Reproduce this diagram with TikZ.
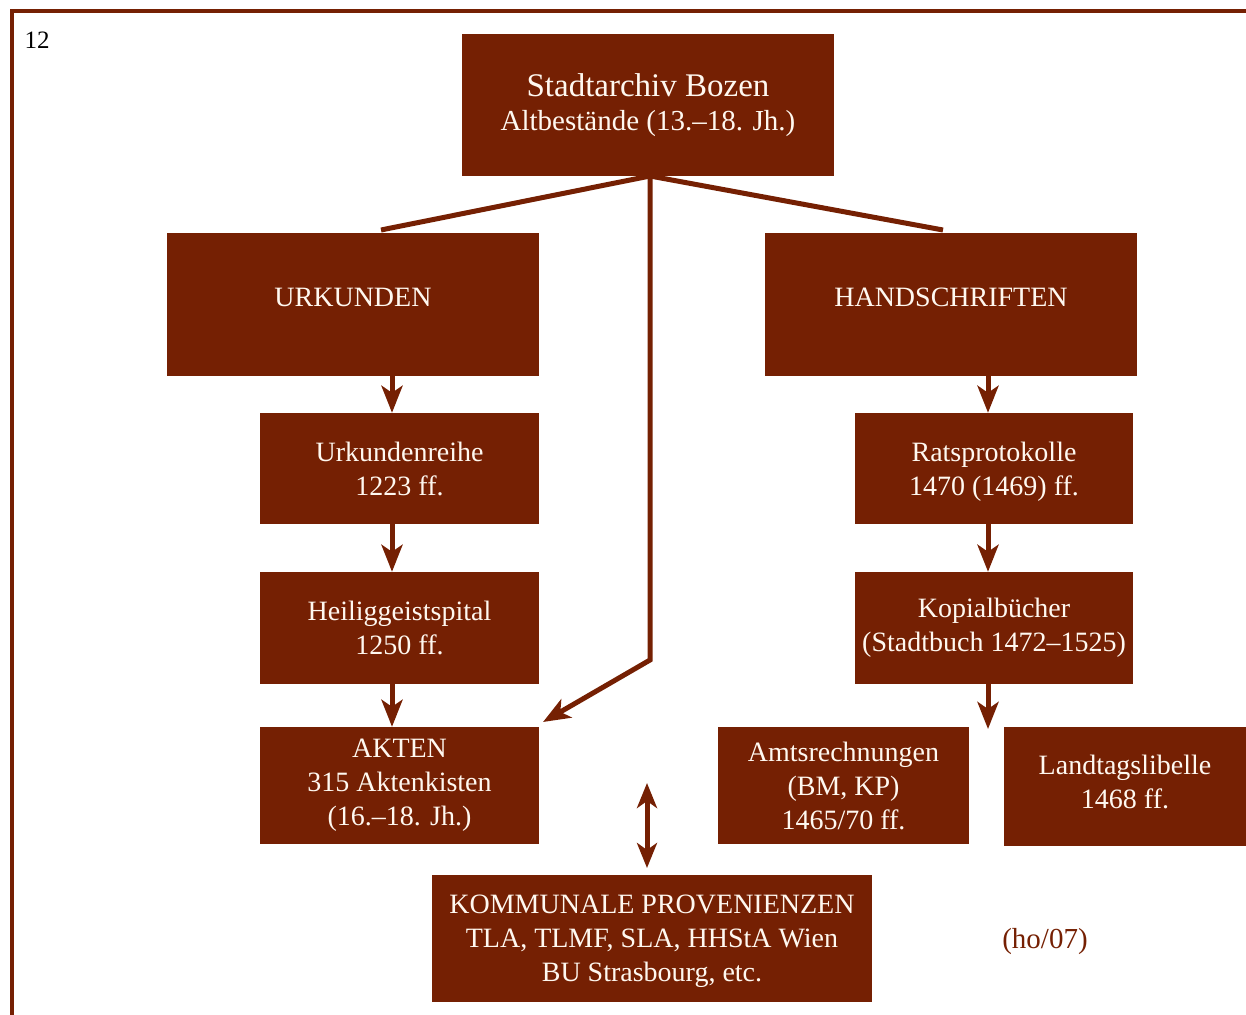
\documentclass[tikz,border=0pt]{standalone}
\usepackage{fontspec}
\setmainfont{Liberation Serif}
\usetikzlibrary{arrows.meta,calc}
\definecolor{archred}{RGB}{117,32,3}
\definecolor{cream}{RGB}{255,248,240}
\begin{document}
\begin{tikzpicture}[x=1pt,y=-1pt,
  box/.style={fill=archred,draw=none,text=cream,inner sep=0pt,align=center,
    font=\fontsize{28}{34}\selectfont},
  boxtext/.style={text=cream,inner sep=0pt,align=center,font=\fontsize{28}{34}\selectfont},
  conn/.style={draw=archred,line width=5pt},
  arr/.style={conn,-{Stealth[length=27pt,width=21pt,inset=7pt]}},
  darr/.style={conn,{Stealth[length=25pt,width=20pt,inset=7pt]}-{Stealth[length=25pt,width=20pt,inset=7pt]}}]
\useasboundingbox (0,0) rectangle (1246,1014);
% frame
\draw[archred,line width=4pt] (11.5,1020) -- (11.5,11.5) -- (1252,11.5);
\node[font=\fontsize{25}{28}\selectfont,text=black] (pg) at (37,40) {12};
% boxes
\node[box,minimum width=372pt,minimum height=142pt] (top) at (648,105)
  {{\fontsize{33}{38}\selectfont Stadtarchiv Bozen}\\{\fontsize{29}{36}\selectfont Altbestände (13.–18. Jh.)}};
\node[box,minimum width=372pt,minimum height=143pt] (urk) at (353,304.5) {\raisebox{15pt}{URKUNDEN}};
\node[box,minimum width=372pt,minimum height=143pt] (hand) at (951,304.5) {\raisebox{15pt}{HANDSCHRIFTEN}};
\node[box,minimum width=279pt,minimum height=111pt] (ureihe) at (399.5,468.5) {Urkundenreihe\\1223 ff.};
\node[box,minimum width=279pt,minimum height=112pt] (heil) at (399.5,628) {Heiliggeistspital\\1250 ff.};
\node[box,minimum width=279pt,minimum height=117pt] (akten) at (399.5,785.5) {AKTEN\\315 Aktenkisten\\(16.–18. Jh.)};
\node[box,minimum width=278pt,minimum height=111pt] (rats) at (994,468.5) {};
\node[boxtext] (ratst) at (994,471.5) {Ratsprotokolle\\1470 (1469) ff.};
\node[box,minimum width=278pt,minimum height=112pt] (kopial) at (994,628) {Kopialbücher\\(Stadtbuch 1472–1525)};
\node[box,minimum width=251pt,minimum height=117pt] (amts) at (843.5,785.5) {Amtsrechnungen\\(BM, KP)\\1465/70 ff.};
\node[box,minimum width=242pt,minimum height=119pt] (land) at (1125,786.5) {};
\node[boxtext] (landt) at (1125,781.5) {Landtagslibelle\\1468 ff.};
\node[box,minimum width=440pt,minimum height=127pt] (komm) at (652,938.5) {};
\node[boxtext] (kommt) at (652,941.5) {KOMMUNALE PROVENIENZEN\\TLA, TLMF, SLA, HHStA Wien\\BU Strasbourg, etc.};
\node[text=archred,font=\fontsize{29}{34}\selectfont] (ho) at (1045,942) {(ho/07)};
% connector coordinates
\coordinate (src) at (650,176);
\coordinate (uj) at (381,230);
\coordinate (hj) at (943,230);
\coordinate (bend) at (650,660);
\coordinate (aktip) at (543,722);
\coordinate (lx) at (392,0);
\coordinate (rx) at (988,0);
\coordinate (gap) at (988,729);
\coordinate (dtop) at (647,783);
\coordinate (dbot) at (647,868);
% connectors
\draw[conn] (uj) -- (src) -- (hj);
\draw[arr,line join=miter] (src) -- (bend) -- (aktip);
\draw[arr] (urk.south -| lx) -- (ureihe.north -| lx);
\draw[arr] (ureihe.south -| lx) -- (heil.north -| lx);
\draw[arr] (heil.south -| lx) -- (akten.north -| lx);
\draw[arr] (hand.south -| rx) -- (rats.north -| rx);
\draw[arr] (rats.south -| rx) -- (kopial.north -| rx);
\draw[arr] (kopial.south -| rx) -- (gap);
\draw[darr] (dtop) -- (dbot);
\end{tikzpicture}
\end{document}
